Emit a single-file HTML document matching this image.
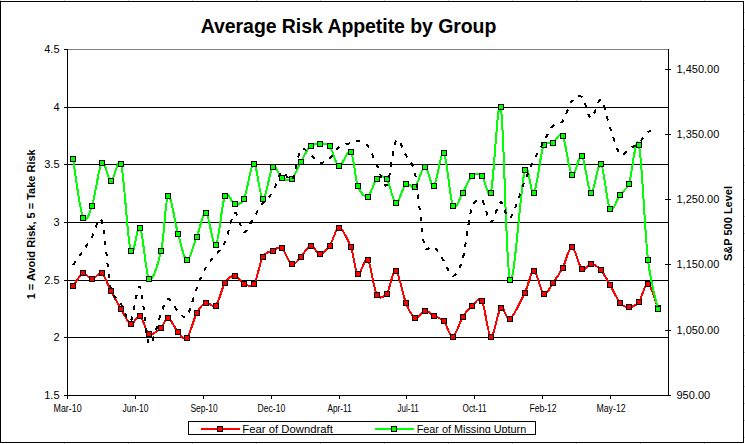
<!DOCTYPE html>
<html><head><meta charset="utf-8"><style>html,body{margin:0;padding:0;background:#fff;width:745px;height:444px;overflow:hidden}svg{display:block}</style></head>
<body><svg width="745" height="444" viewBox="0 0 745 444">
<rect width="745" height="444" fill="#fff"/>
<rect x="0" y="0" width="1" height="1" fill="#c0c0c0"/><rect x="64" y="0" width="1" height="1" fill="#c8c8c8"/><rect x="64" y="443" width="1" height="1" fill="#c8c8c8"/><rect x="128" y="0" width="1" height="1" fill="#c8c8c8"/><rect x="128" y="443" width="1" height="1" fill="#c8c8c8"/><rect x="192" y="0" width="1" height="1" fill="#c8c8c8"/><rect x="192" y="443" width="1" height="1" fill="#c8c8c8"/><rect x="256" y="0" width="1" height="1" fill="#c8c8c8"/><rect x="256" y="443" width="1" height="1" fill="#c8c8c8"/><rect x="320" y="0" width="1" height="1" fill="#c8c8c8"/><rect x="320" y="443" width="1" height="1" fill="#c8c8c8"/><rect x="384" y="0" width="1" height="1" fill="#c8c8c8"/><rect x="384" y="443" width="1" height="1" fill="#c8c8c8"/><rect x="448" y="0" width="1" height="1" fill="#c8c8c8"/><rect x="448" y="443" width="1" height="1" fill="#c8c8c8"/><rect x="512" y="0" width="1" height="1" fill="#c8c8c8"/><rect x="512" y="443" width="1" height="1" fill="#c8c8c8"/><rect x="576" y="0" width="1" height="1" fill="#c8c8c8"/><rect x="576" y="443" width="1" height="1" fill="#c8c8c8"/><rect x="640" y="0" width="1" height="1" fill="#c8c8c8"/><rect x="640" y="443" width="1" height="1" fill="#c8c8c8"/><rect x="704" y="0" width="1" height="1" fill="#c8c8c8"/><rect x="704" y="443" width="1" height="1" fill="#c8c8c8"/><rect x="744" y="12" width="1" height="1" fill="#c8c8c8"/><rect x="744" y="29" width="1" height="1" fill="#c8c8c8"/><rect x="744" y="46" width="1" height="1" fill="#c8c8c8"/><rect x="744" y="63" width="1" height="1" fill="#c8c8c8"/><rect x="744" y="80" width="1" height="1" fill="#c8c8c8"/><rect x="744" y="97" width="1" height="1" fill="#c8c8c8"/><rect x="744" y="114" width="1" height="1" fill="#c8c8c8"/><rect x="744" y="131" width="1" height="1" fill="#c8c8c8"/><rect x="744" y="148" width="1" height="1" fill="#c8c8c8"/><rect x="744" y="165" width="1" height="1" fill="#c8c8c8"/><rect x="744" y="182" width="1" height="1" fill="#c8c8c8"/><rect x="744" y="199" width="1" height="1" fill="#c8c8c8"/><rect x="744" y="216" width="1" height="1" fill="#c8c8c8"/><rect x="744" y="233" width="1" height="1" fill="#c8c8c8"/><rect x="744" y="250" width="1" height="1" fill="#c8c8c8"/><rect x="744" y="267" width="1" height="1" fill="#c8c8c8"/><rect x="744" y="284" width="1" height="1" fill="#c8c8c8"/><rect x="744" y="301" width="1" height="1" fill="#c8c8c8"/><rect x="744" y="318" width="1" height="1" fill="#c8c8c8"/><rect x="744" y="335" width="1" height="1" fill="#c8c8c8"/><rect x="744" y="352" width="1" height="1" fill="#c8c8c8"/><rect x="744" y="369" width="1" height="1" fill="#c8c8c8"/><rect x="744" y="386" width="1" height="1" fill="#c8c8c8"/><rect x="744" y="403" width="1" height="1" fill="#c8c8c8"/><rect x="744" y="420" width="1" height="1" fill="#c8c8c8"/><rect x="744" y="437" width="1" height="1" fill="#c8c8c8"/><g shape-rendering="crispEdges" fill="#000"><rect x="0" y="1" width="744" height="1"/><rect x="0" y="1" width="1" height="442"/><rect x="743" y="1" width="1" height="442"/><rect x="0" y="442" width="744" height="1"/></g><g shape-rendering="crispEdges"><rect x="68" y="49" width="600" height="1" fill="#808080"/><rect x="68" y="107" width="600" height="1" fill="#000"/><rect x="68" y="164" width="600" height="1" fill="#000"/><rect x="68" y="222" width="600" height="1" fill="#000"/><rect x="68" y="280" width="600" height="1" fill="#000"/><rect x="68" y="337" width="600" height="1" fill="#000"/><rect x="67" y="49" width="1" height="350" fill="#000"/><rect x="64" y="49" width="3" height="1" fill="#000"/><rect x="64" y="107" width="3" height="1" fill="#000"/><rect x="64" y="164" width="3" height="1" fill="#000"/><rect x="64" y="222" width="3" height="1" fill="#000"/><rect x="64" y="280" width="3" height="1" fill="#000"/><rect x="64" y="337" width="3" height="1" fill="#000"/><rect x="64" y="395" width="3" height="1" fill="#000"/><rect x="67" y="395" width="604" height="1" fill="#000"/><rect x="135" y="396" width="1" height="3" fill="#000"/><rect x="203" y="396" width="1" height="3" fill="#000"/><rect x="271" y="396" width="1" height="3" fill="#000"/><rect x="339" y="396" width="1" height="3" fill="#000"/><rect x="406" y="396" width="1" height="3" fill="#000"/><rect x="474" y="396" width="1" height="3" fill="#000"/><rect x="542" y="396" width="1" height="3" fill="#000"/><rect x="610" y="396" width="1" height="3" fill="#000"/><rect x="668" y="49" width="1" height="347" fill="#000"/><rect x="665" y="69" width="6" height="1" fill="#000"/><rect x="665" y="134" width="6" height="1" fill="#000"/><rect x="665" y="199" width="6" height="1" fill="#000"/><rect x="665" y="264" width="6" height="1" fill="#000"/><rect x="665" y="330" width="6" height="1" fill="#000"/></g><path d="M73.00,286.00 C74.67,283.90 79.83,274.52 83.00,273.40 C86.17,272.28 88.87,279.30 92.00,279.30 C95.13,279.30 98.63,271.45 101.80,273.40 C104.97,275.35 107.80,285.07 111.00,291.00 C114.20,296.93 117.72,303.53 121.00,309.00 C124.28,314.47 127.53,322.63 130.70,323.80 C133.87,324.97 136.93,314.30 140.00,316.00 C143.07,317.70 145.58,332.02 149.10,334.00 C152.62,335.98 157.93,330.57 161.10,327.90 C164.27,325.23 165.28,317.35 168.10,318.00 C170.92,318.65 174.87,328.47 178.00,331.80 C181.13,335.13 183.77,341.13 186.90,338.00 C190.03,334.87 193.62,318.88 196.80,313.00 C199.98,307.12 202.83,303.92 206.00,302.70 C209.17,301.48 212.63,309.00 215.80,305.70 C218.97,302.40 221.83,287.92 225.00,282.90 C228.17,277.88 231.63,275.50 234.80,275.60 C237.97,275.70 240.82,282.05 244.00,283.50 C247.18,284.95 251.03,288.35 253.90,284.30 C257.05,279.85 259.75,262.40 262.90,256.80 C265.75,251.73 269.65,252.15 272.80,250.70 C275.95,249.25 278.63,245.80 281.80,248.10 C284.97,250.40 288.62,263.03 291.80,264.50 C294.98,265.97 297.73,260.05 300.90,256.90 C304.07,253.75 307.63,246.08 310.80,245.60 C313.97,245.12 316.73,254.00 319.90,254.00 C323.07,254.00 326.62,249.93 329.80,245.60 C332.98,241.27 335.50,227.77 339.00,228.00 C342.50,228.23 347.67,239.33 350.80,247.00 C353.93,254.67 354.97,271.87 357.80,274.00 C360.63,276.13 364.63,256.30 367.80,259.80 C370.97,263.30 373.63,289.38 376.80,295.00 C379.28,299.40 383.65,297.46 386.80,293.50 C389.98,289.50 392.72,269.43 395.90,271.00 C399.08,272.57 402.72,295.10 405.90,302.90 C409.08,310.70 411.83,316.48 415.00,317.80 C418.17,319.12 421.73,311.13 424.90,310.80 C428.07,310.47 430.85,314.07 434.00,315.80 C437.15,317.53 440.65,317.72 443.80,321.20 C446.95,324.68 449.75,337.42 452.90,336.70 C456.05,335.98 459.52,322.05 462.70,316.90 C465.88,311.75 468.80,308.48 472.00,305.80 C475.20,303.12 479.01,296.07 481.90,300.80 C485.05,305.97 487.75,335.63 490.90,336.80 C494.05,337.97 497.62,310.80 500.80,307.80 C503.98,304.80 506.00,321.28 510.00,318.80 C514.00,316.32 520.82,300.88 524.80,292.90 C528.78,284.92 530.75,270.75 533.90,270.90 C537.05,271.05 540.53,291.80 543.70,293.80 C546.87,295.80 549.73,287.23 552.90,282.90 C556.07,278.57 559.53,273.80 562.70,267.80 C565.87,261.80 568.70,246.70 571.90,246.90 C575.10,247.10 578.72,266.18 581.90,269.00 C585.08,271.82 587.83,263.62 591.00,263.80 C594.17,263.98 597.75,266.62 600.90,270.10 C604.05,273.58 606.72,279.27 609.90,284.70 C613.08,290.13 616.83,298.93 620.00,302.70 C623.17,306.47 625.77,307.42 628.90,307.30 C632.03,307.18 635.62,305.92 638.80,302.00 C641.98,298.08 644.80,282.72 648.00,283.80 C651.20,284.88 656.33,304.38 658.00,308.50" fill="none" stroke="#ff0000" stroke-width="2" stroke-linejoin="round" shape-rendering="crispEdges"/><rect x="70.5" y="283.5" width="5" height="5" fill="#ff0000" stroke="#000" stroke-width="1"/><rect x="80.5" y="270.5" width="5" height="5" fill="#ff0000" stroke="#000" stroke-width="1"/><rect x="89.5" y="276.5" width="5" height="5" fill="#ff0000" stroke="#000" stroke-width="1"/><rect x="99.5" y="270.5" width="5" height="5" fill="#ff0000" stroke="#000" stroke-width="1"/><rect x="108.5" y="288.5" width="5" height="5" fill="#ff0000" stroke="#000" stroke-width="1"/><rect x="118.5" y="306.5" width="5" height="5" fill="#ff0000" stroke="#000" stroke-width="1"/><rect x="128.5" y="321.5" width="5" height="5" fill="#ff0000" stroke="#000" stroke-width="1"/><rect x="137.5" y="313.5" width="5" height="5" fill="#ff0000" stroke="#000" stroke-width="1"/><rect x="146.5" y="331.5" width="5" height="5" fill="#ff0000" stroke="#000" stroke-width="1"/><rect x="158.5" y="325.5" width="5" height="5" fill="#ff0000" stroke="#000" stroke-width="1"/><rect x="165.5" y="315.5" width="5" height="5" fill="#ff0000" stroke="#000" stroke-width="1"/><rect x="175.5" y="329.5" width="5" height="5" fill="#ff0000" stroke="#000" stroke-width="1"/><rect x="184.5" y="335.5" width="5" height="5" fill="#ff0000" stroke="#000" stroke-width="1"/><rect x="194.5" y="310.5" width="5" height="5" fill="#ff0000" stroke="#000" stroke-width="1"/><rect x="203.5" y="300.5" width="5" height="5" fill="#ff0000" stroke="#000" stroke-width="1"/><rect x="213.5" y="303.5" width="5" height="5" fill="#ff0000" stroke="#000" stroke-width="1"/><rect x="222.5" y="280.5" width="5" height="5" fill="#ff0000" stroke="#000" stroke-width="1"/><rect x="232.5" y="273.5" width="5" height="5" fill="#ff0000" stroke="#000" stroke-width="1"/><rect x="241.5" y="281.5" width="5" height="5" fill="#ff0000" stroke="#000" stroke-width="1"/><rect x="251.5" y="281.5" width="5" height="5" fill="#ff0000" stroke="#000" stroke-width="1"/><rect x="260.5" y="254.5" width="5" height="5" fill="#ff0000" stroke="#000" stroke-width="1"/><rect x="270.5" y="248.5" width="5" height="5" fill="#ff0000" stroke="#000" stroke-width="1"/><rect x="279.5" y="245.5" width="5" height="5" fill="#ff0000" stroke="#000" stroke-width="1"/><rect x="289.5" y="261.5" width="5" height="5" fill="#ff0000" stroke="#000" stroke-width="1"/><rect x="298.5" y="254.5" width="5" height="5" fill="#ff0000" stroke="#000" stroke-width="1"/><rect x="308.5" y="243.5" width="5" height="5" fill="#ff0000" stroke="#000" stroke-width="1"/><rect x="317.5" y="251.5" width="5" height="5" fill="#ff0000" stroke="#000" stroke-width="1"/><rect x="327.5" y="243.5" width="5" height="5" fill="#ff0000" stroke="#000" stroke-width="1"/><rect x="336.5" y="225.5" width="5" height="5" fill="#ff0000" stroke="#000" stroke-width="1"/><rect x="348.5" y="244.5" width="5" height="5" fill="#ff0000" stroke="#000" stroke-width="1"/><rect x="355.5" y="271.5" width="5" height="5" fill="#ff0000" stroke="#000" stroke-width="1"/><rect x="365.5" y="257.5" width="5" height="5" fill="#ff0000" stroke="#000" stroke-width="1"/><rect x="374.5" y="292.5" width="5" height="5" fill="#ff0000" stroke="#000" stroke-width="1"/><rect x="384.5" y="291.5" width="5" height="5" fill="#ff0000" stroke="#000" stroke-width="1"/><rect x="393.5" y="268.5" width="5" height="5" fill="#ff0000" stroke="#000" stroke-width="1"/><rect x="403.5" y="300.5" width="5" height="5" fill="#ff0000" stroke="#000" stroke-width="1"/><rect x="412.5" y="315.5" width="5" height="5" fill="#ff0000" stroke="#000" stroke-width="1"/><rect x="422.5" y="308.5" width="5" height="5" fill="#ff0000" stroke="#000" stroke-width="1"/><rect x="431.5" y="313.5" width="5" height="5" fill="#ff0000" stroke="#000" stroke-width="1"/><rect x="441.5" y="318.5" width="5" height="5" fill="#ff0000" stroke="#000" stroke-width="1"/><rect x="450.5" y="334.5" width="5" height="5" fill="#ff0000" stroke="#000" stroke-width="1"/><rect x="460.5" y="314.5" width="5" height="5" fill="#ff0000" stroke="#000" stroke-width="1"/><rect x="469.5" y="303.5" width="5" height="5" fill="#ff0000" stroke="#000" stroke-width="1"/><rect x="479.5" y="298.5" width="5" height="5" fill="#ff0000" stroke="#000" stroke-width="1"/><rect x="488.5" y="334.5" width="5" height="5" fill="#ff0000" stroke="#000" stroke-width="1"/><rect x="498.5" y="305.5" width="5" height="5" fill="#ff0000" stroke="#000" stroke-width="1"/><rect x="507.5" y="316.5" width="5" height="5" fill="#ff0000" stroke="#000" stroke-width="1"/><rect x="522.5" y="290.5" width="5" height="5" fill="#ff0000" stroke="#000" stroke-width="1"/><rect x="531.5" y="268.5" width="5" height="5" fill="#ff0000" stroke="#000" stroke-width="1"/><rect x="541.5" y="291.5" width="5" height="5" fill="#ff0000" stroke="#000" stroke-width="1"/><rect x="550.5" y="280.5" width="5" height="5" fill="#ff0000" stroke="#000" stroke-width="1"/><rect x="560.5" y="265.5" width="5" height="5" fill="#ff0000" stroke="#000" stroke-width="1"/><rect x="569.5" y="244.5" width="5" height="5" fill="#ff0000" stroke="#000" stroke-width="1"/><rect x="579.5" y="266.5" width="5" height="5" fill="#ff0000" stroke="#000" stroke-width="1"/><rect x="588.5" y="261.5" width="5" height="5" fill="#ff0000" stroke="#000" stroke-width="1"/><rect x="598.5" y="267.5" width="5" height="5" fill="#ff0000" stroke="#000" stroke-width="1"/><rect x="607.5" y="282.5" width="5" height="5" fill="#ff0000" stroke="#000" stroke-width="1"/><rect x="617.5" y="300.5" width="5" height="5" fill="#ff0000" stroke="#000" stroke-width="1"/><rect x="626.5" y="304.5" width="5" height="5" fill="#ff0000" stroke="#000" stroke-width="1"/><rect x="636.5" y="299.5" width="5" height="5" fill="#ff0000" stroke="#000" stroke-width="1"/><rect x="645.5" y="281.5" width="5" height="5" fill="#ff0000" stroke="#000" stroke-width="1"/><rect x="655.5" y="305.5" width="5" height="5" fill="#ff0000" stroke="#000" stroke-width="1"/><path d="M73.00,159.00 C74.67,168.82 79.83,210.07 83.00,217.90 C85.80,224.82 89.58,213.06 92.00,206.00 C95.13,196.85 98.63,167.17 101.80,163.00 C104.97,158.83 107.80,180.85 111.00,181.00 C114.20,181.15 118.31,154.37 121.00,163.90 C124.28,175.55 127.53,240.27 130.70,250.90 C133.87,261.53 136.93,223.08 140.00,227.70 C143.07,232.32 145.58,274.73 149.10,278.60 C152.62,282.47 157.93,264.70 161.10,250.90 C164.27,237.10 165.28,198.68 168.10,195.80 C170.92,192.92 174.87,222.95 178.00,233.60 C181.13,244.25 183.77,259.17 186.90,259.70 C190.03,260.23 193.62,244.62 196.80,236.80 C199.98,228.98 202.83,211.45 206.00,212.80 C209.17,214.15 212.63,247.77 215.80,244.90 C218.97,242.03 221.83,202.42 225.00,195.60 C227.72,189.75 231.63,203.43 234.80,204.00 C237.97,204.57 241.76,203.73 244.00,199.00 C247.18,192.27 250.75,163.60 253.90,163.60 C257.05,163.60 259.75,198.43 262.90,199.00 C266.05,199.57 269.65,170.53 272.80,167.00 C275.95,163.47 278.63,175.85 281.80,177.80 C284.97,179.75 288.62,181.37 291.80,178.70 C294.98,176.03 297.73,167.32 300.90,161.80 C304.07,156.28 307.63,148.60 310.80,145.60 C313.97,142.60 316.73,143.65 319.90,143.80 C323.07,143.95 326.62,142.82 329.80,146.50 C332.98,150.18 335.50,165.03 339.00,165.90 C342.50,166.77 347.67,148.37 350.80,151.70 C353.93,155.03 354.97,178.40 357.80,185.90 C360.40,192.78 364.63,197.90 367.80,196.70 C370.97,195.50 373.63,181.65 376.80,178.70 C379.97,175.75 383.70,175.07 386.80,179.00 C389.98,183.03 392.72,202.07 395.90,202.90 C399.08,203.73 402.72,186.67 405.90,184.00 C409.08,181.33 411.83,189.77 415.00,186.90 C418.17,184.03 421.73,166.98 424.90,166.80 C428.07,166.62 430.85,188.12 434.00,185.80 C437.15,183.48 440.65,149.57 443.80,152.90 C446.95,156.23 449.75,199.17 452.90,205.80 C456.05,212.43 459.52,197.70 462.70,192.70 C465.88,187.70 468.80,178.60 472.00,175.80 C475.20,173.00 478.75,173.10 481.90,175.90 C485.05,178.70 488.39,201.75 490.90,192.60 C494.05,181.12 497.62,92.42 500.80,107.00 C503.98,121.58 506.00,269.60 510.00,280.10 C514.00,290.60 520.82,184.58 524.80,170.00 C528.01,158.25 530.75,196.83 533.90,192.60 C537.05,188.37 540.53,152.90 543.70,144.60 C545.37,140.22 549.73,144.27 552.90,142.80 C556.07,141.33 559.63,130.62 562.70,135.80 C565.87,141.13 568.70,171.45 571.90,174.80 C575.10,178.15 578.72,152.88 581.90,155.90 C585.08,158.92 587.83,191.57 591.00,192.90 C594.17,194.23 597.75,161.27 600.90,163.90 C604.05,166.53 606.72,203.57 609.90,208.70 C613.08,213.83 616.83,198.85 620.00,194.70 C623.17,190.55 626.42,190.39 628.90,183.80 C632.03,175.47 635.62,132.02 638.80,144.70 C641.98,157.38 644.80,232.52 648.00,259.90 C650.91,284.78 656.33,300.82 658.00,309.00" fill="none" stroke="#00ff00" stroke-width="2" stroke-linejoin="round" shape-rendering="crispEdges"/><rect x="70.5" y="156.5" width="5" height="5" fill="#00ff00" stroke="#000" stroke-width="1"/><rect x="80.5" y="215.5" width="5" height="5" fill="#00ff00" stroke="#000" stroke-width="1"/><rect x="89.5" y="203.5" width="5" height="5" fill="#00ff00" stroke="#000" stroke-width="1"/><rect x="99.5" y="160.5" width="5" height="5" fill="#00ff00" stroke="#000" stroke-width="1"/><rect x="108.5" y="178.5" width="5" height="5" fill="#00ff00" stroke="#000" stroke-width="1"/><rect x="118.5" y="161.5" width="5" height="5" fill="#00ff00" stroke="#000" stroke-width="1"/><rect x="128.5" y="248.5" width="5" height="5" fill="#00ff00" stroke="#000" stroke-width="1"/><rect x="137.5" y="225.5" width="5" height="5" fill="#00ff00" stroke="#000" stroke-width="1"/><rect x="146.5" y="276.5" width="5" height="5" fill="#00ff00" stroke="#000" stroke-width="1"/><rect x="158.5" y="248.5" width="5" height="5" fill="#00ff00" stroke="#000" stroke-width="1"/><rect x="165.5" y="193.5" width="5" height="5" fill="#00ff00" stroke="#000" stroke-width="1"/><rect x="175.5" y="231.5" width="5" height="5" fill="#00ff00" stroke="#000" stroke-width="1"/><rect x="184.5" y="257.5" width="5" height="5" fill="#00ff00" stroke="#000" stroke-width="1"/><rect x="194.5" y="234.5" width="5" height="5" fill="#00ff00" stroke="#000" stroke-width="1"/><rect x="203.5" y="210.5" width="5" height="5" fill="#00ff00" stroke="#000" stroke-width="1"/><rect x="213.5" y="242.5" width="5" height="5" fill="#00ff00" stroke="#000" stroke-width="1"/><rect x="222.5" y="193.5" width="5" height="5" fill="#00ff00" stroke="#000" stroke-width="1"/><rect x="232.5" y="201.5" width="5" height="5" fill="#00ff00" stroke="#000" stroke-width="1"/><rect x="241.5" y="196.5" width="5" height="5" fill="#00ff00" stroke="#000" stroke-width="1"/><rect x="251.5" y="161.5" width="5" height="5" fill="#00ff00" stroke="#000" stroke-width="1"/><rect x="260.5" y="196.5" width="5" height="5" fill="#00ff00" stroke="#000" stroke-width="1"/><rect x="270.5" y="164.5" width="5" height="5" fill="#00ff00" stroke="#000" stroke-width="1"/><rect x="279.5" y="175.5" width="5" height="5" fill="#00ff00" stroke="#000" stroke-width="1"/><rect x="289.5" y="176.5" width="5" height="5" fill="#00ff00" stroke="#000" stroke-width="1"/><rect x="298.5" y="159.5" width="5" height="5" fill="#00ff00" stroke="#000" stroke-width="1"/><rect x="308.5" y="143.5" width="5" height="5" fill="#00ff00" stroke="#000" stroke-width="1"/><rect x="317.5" y="141.5" width="5" height="5" fill="#00ff00" stroke="#000" stroke-width="1"/><rect x="327.5" y="143.5" width="5" height="5" fill="#00ff00" stroke="#000" stroke-width="1"/><rect x="336.5" y="163.5" width="5" height="5" fill="#00ff00" stroke="#000" stroke-width="1"/><rect x="348.5" y="149.5" width="5" height="5" fill="#00ff00" stroke="#000" stroke-width="1"/><rect x="355.5" y="183.5" width="5" height="5" fill="#00ff00" stroke="#000" stroke-width="1"/><rect x="365.5" y="194.5" width="5" height="5" fill="#00ff00" stroke="#000" stroke-width="1"/><rect x="374.5" y="176.5" width="5" height="5" fill="#00ff00" stroke="#000" stroke-width="1"/><rect x="384.5" y="176.5" width="5" height="5" fill="#00ff00" stroke="#000" stroke-width="1"/><rect x="393.5" y="200.5" width="5" height="5" fill="#00ff00" stroke="#000" stroke-width="1"/><rect x="403.5" y="181.5" width="5" height="5" fill="#00ff00" stroke="#000" stroke-width="1"/><rect x="412.5" y="184.5" width="5" height="5" fill="#00ff00" stroke="#000" stroke-width="1"/><rect x="422.5" y="164.5" width="5" height="5" fill="#00ff00" stroke="#000" stroke-width="1"/><rect x="431.5" y="183.5" width="5" height="5" fill="#00ff00" stroke="#000" stroke-width="1"/><rect x="441.5" y="150.5" width="5" height="5" fill="#00ff00" stroke="#000" stroke-width="1"/><rect x="450.5" y="203.5" width="5" height="5" fill="#00ff00" stroke="#000" stroke-width="1"/><rect x="460.5" y="190.5" width="5" height="5" fill="#00ff00" stroke="#000" stroke-width="1"/><rect x="469.5" y="173.5" width="5" height="5" fill="#00ff00" stroke="#000" stroke-width="1"/><rect x="479.5" y="173.5" width="5" height="5" fill="#00ff00" stroke="#000" stroke-width="1"/><rect x="488.5" y="190.5" width="5" height="5" fill="#00ff00" stroke="#000" stroke-width="1"/><rect x="498.5" y="104.5" width="5" height="5" fill="#00ff00" stroke="#000" stroke-width="1"/><rect x="507.5" y="277.5" width="5" height="5" fill="#00ff00" stroke="#000" stroke-width="1"/><rect x="522.5" y="167.5" width="5" height="5" fill="#00ff00" stroke="#000" stroke-width="1"/><rect x="531.5" y="190.5" width="5" height="5" fill="#00ff00" stroke="#000" stroke-width="1"/><rect x="541.5" y="142.5" width="5" height="5" fill="#00ff00" stroke="#000" stroke-width="1"/><rect x="550.5" y="140.5" width="5" height="5" fill="#00ff00" stroke="#000" stroke-width="1"/><rect x="560.5" y="133.5" width="5" height="5" fill="#00ff00" stroke="#000" stroke-width="1"/><rect x="569.5" y="172.5" width="5" height="5" fill="#00ff00" stroke="#000" stroke-width="1"/><rect x="579.5" y="153.5" width="5" height="5" fill="#00ff00" stroke="#000" stroke-width="1"/><rect x="588.5" y="190.5" width="5" height="5" fill="#00ff00" stroke="#000" stroke-width="1"/><rect x="598.5" y="161.5" width="5" height="5" fill="#00ff00" stroke="#000" stroke-width="1"/><rect x="607.5" y="206.5" width="5" height="5" fill="#00ff00" stroke="#000" stroke-width="1"/><rect x="617.5" y="192.5" width="5" height="5" fill="#00ff00" stroke="#000" stroke-width="1"/><rect x="626.5" y="181.5" width="5" height="5" fill="#00ff00" stroke="#000" stroke-width="1"/><rect x="636.5" y="142.5" width="5" height="5" fill="#00ff00" stroke="#000" stroke-width="1"/><rect x="645.5" y="257.5" width="5" height="5" fill="#00ff00" stroke="#000" stroke-width="1"/><rect x="655.5" y="306.5" width="5" height="5" fill="#00ff00" stroke="#000" stroke-width="1"/><path d="M73.00,265.00 C74.67,262.67 79.83,255.67 83.00,251.00 C86.17,246.33 88.87,242.00 92.00,237.00 C95.13,232.00 98.63,212.33 101.80,221.00 C104.97,229.67 107.80,275.17 111.00,289.00 C113.03,297.78 117.72,298.67 121.00,304.00 C124.28,309.33 127.53,323.83 130.70,321.00 C133.87,318.17 136.93,283.17 140.00,287.00 C143.07,290.83 145.58,339.67 149.10,344.00 C152.62,348.33 157.93,320.50 161.10,313.00 C164.14,305.79 165.28,299.33 168.10,299.00 C170.92,298.67 174.87,308.17 178.00,311.00 C181.13,313.83 183.77,319.83 186.90,316.00 C190.03,312.17 193.62,296.17 196.80,288.00 C199.98,279.83 202.83,272.50 206.00,267.00 C209.17,261.50 212.63,259.17 215.80,255.00 C218.97,250.83 221.83,249.00 225.00,242.00 C228.17,235.00 231.63,214.67 234.80,213.00 C237.97,211.33 240.82,231.33 244.00,232.00 C247.18,232.67 250.75,221.83 253.90,217.00 C257.05,212.17 259.75,207.17 262.90,203.00 C266.05,198.83 269.65,197.17 272.80,192.00 C275.95,186.83 278.63,174.00 281.80,172.00 C284.97,170.00 288.62,183.67 291.80,180.00 C294.98,176.33 297.73,154.17 300.90,150.00 C304.07,145.83 307.63,152.83 310.80,155.00 C313.97,157.17 316.73,162.50 319.90,163.00 C323.07,163.50 326.62,160.67 329.80,158.00 C332.98,155.33 335.50,149.50 339.00,147.00 C342.50,144.50 347.67,144.00 350.80,143.00 C353.93,142.00 354.97,140.50 357.80,141.00 C360.63,141.50 364.63,142.00 367.80,146.00 C370.97,150.00 373.63,158.50 376.80,165.00 C379.97,171.50 383.62,189.00 386.80,185.00 C389.98,181.00 392.72,146.00 395.90,141.00 C399.08,136.00 402.72,149.67 405.90,155.00 C409.08,160.33 412.98,163.12 415.00,173.00 C418.17,188.50 421.73,235.67 424.90,248.00 C426.04,252.43 430.85,244.83 434.00,247.00 C437.15,249.17 440.65,256.17 443.80,261.00 C446.95,265.83 449.75,276.33 452.90,276.00 C456.05,275.67 460.08,268.46 462.70,259.00 C465.88,247.50 468.80,216.83 472.00,207.00 C473.88,201.24 478.75,197.50 481.90,200.00 C485.05,202.50 487.75,221.67 490.90,222.00 C494.05,222.33 497.62,202.67 500.80,202.00 C503.98,201.33 506.00,221.50 510.00,218.00 C514.00,214.50 520.82,190.67 524.80,181.00 C528.78,171.33 530.75,166.50 533.90,160.00 C537.05,153.50 540.53,147.67 543.70,142.00 C546.87,136.33 549.73,129.50 552.90,126.00 C556.07,122.50 559.53,125.17 562.70,121.00 C565.87,116.83 568.70,105.00 571.90,101.00 C575.10,97.00 578.72,94.17 581.90,97.00 C585.08,99.83 587.83,117.50 591.00,118.00 C594.17,118.50 597.75,98.50 600.90,100.00 C604.05,101.50 606.72,118.00 609.90,127.00 C613.08,136.00 616.83,150.33 620.00,154.00 C623.17,157.67 625.77,150.83 628.90,149.00 C632.03,147.17 635.62,145.83 638.80,143.00 C641.98,140.17 644.80,134.33 648.00,132.00 C651.20,129.67 656.33,129.50 658.00,129.00" fill="none" stroke="#000" stroke-width="2" stroke-dasharray="4.5 6.5" shape-rendering="crispEdges"/><g font-family="Liberation Sans, sans-serif" fill="#000"><text x="348.55" y="33" font-size="19.5" font-weight="bold" text-anchor="middle" textLength="295.6" lengthAdjust="spacing">Average Risk Appetite by Group</text><text x="59.5" y="53" font-size="11" text-anchor="end">4.5</text><text x="59.5" y="111" font-size="11" text-anchor="end">4</text><text x="59.5" y="168" font-size="11" text-anchor="end">3.5</text><text x="59.5" y="226" font-size="11" text-anchor="end">3</text><text x="59.5" y="284" font-size="11" text-anchor="end">2.5</text><text x="59.5" y="341" font-size="11" text-anchor="end">2</text><text x="59.5" y="399" font-size="11" text-anchor="end">1.5</text><text x="676.5" y="73" font-size="11">1,450.00</text><text x="676.5" y="138" font-size="11">1,350.00</text><text x="676.5" y="203" font-size="11">1,250.00</text><text x="676.5" y="268" font-size="11">1,150.00</text><text x="676.5" y="334" font-size="11">1,050.00</text><text x="676.5" y="399" font-size="11">950.00</text><text x="67.55" y="412.4" font-size="10" text-anchor="middle" textLength="28.10" lengthAdjust="spacingAndGlyphs">Mar-10</text><text x="135.50" y="412.4" font-size="10" text-anchor="middle" textLength="26.00" lengthAdjust="spacingAndGlyphs">Jun-10</text><text x="204.00" y="412.4" font-size="10" text-anchor="middle" textLength="27.20" lengthAdjust="spacingAndGlyphs">Sep-10</text><text x="271.40" y="412.4" font-size="10" text-anchor="middle" textLength="27.80" lengthAdjust="spacingAndGlyphs">Dec-10</text><text x="339.50" y="412.4" font-size="10" text-anchor="middle" textLength="24.20" lengthAdjust="spacingAndGlyphs">Apr-11</text><text x="408.10" y="412.4" font-size="10" text-anchor="middle" textLength="21.20" lengthAdjust="spacingAndGlyphs">Jul-11</text><text x="474.50" y="412.4" font-size="10" text-anchor="middle" textLength="24.00" lengthAdjust="spacingAndGlyphs">Oct-11</text><text x="543.00" y="412.4" font-size="10" text-anchor="middle" textLength="27.00" lengthAdjust="spacingAndGlyphs">Feb-12</text><text x="611.05" y="412.4" font-size="10" text-anchor="middle" textLength="29.10" lengthAdjust="spacingAndGlyphs">May-12</text><text transform="translate(35.2,224.3) rotate(-90)" font-size="11" font-weight="bold" text-anchor="middle">1 = Avoid Risk, 5 = Take Risk</text><text transform="translate(732,223.5) rotate(-90)" font-size="11" font-weight="bold" text-anchor="middle">S&amp;P 500 Level</text></g><g><rect x="188.5" y="421.5" width="347" height="13" fill="#fff" stroke="#000" stroke-width="1" shape-rendering="crispEdges"/><svg x="189" y="422" width="346" height="11" overflow="hidden"><rect x="12" y="6" width="39" height="2" fill="#ff0000"/><rect x="28.5" y="4.5" width="5" height="5" fill="#ff0000" stroke="#000"/><text x="53.3" y="10.8" font-family="Liberation Sans, sans-serif" font-size="11" textLength="90.5" lengthAdjust="spacingAndGlyphs">Fear of Downdraft</text><rect x="186" y="6" width="39" height="2" fill="#00ff00"/><rect x="202.5" y="4.5" width="5" height="5" fill="#00ff00" stroke="#000"/><text x="227.7" y="10.8" font-family="Liberation Sans, sans-serif" font-size="11" textLength="109.5" lengthAdjust="spacingAndGlyphs">Fear of Missing Upturn</text></svg></g>
</svg></body></html>
